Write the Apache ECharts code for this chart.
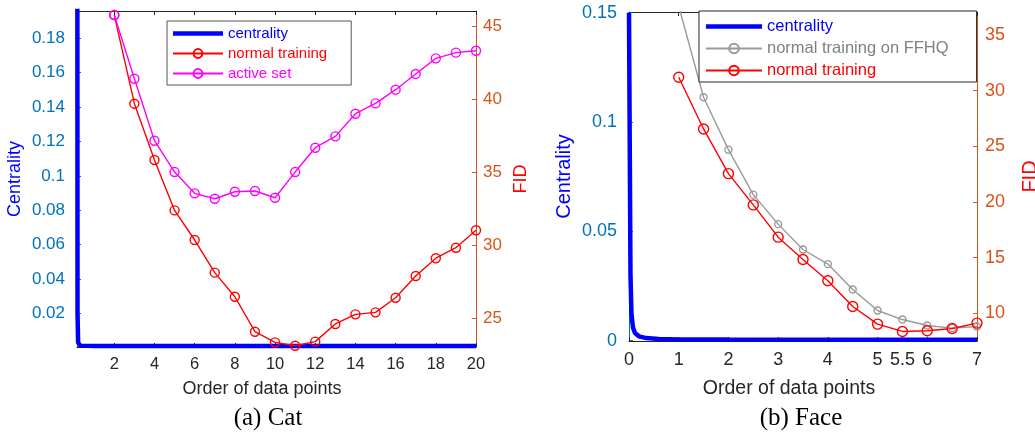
<!DOCTYPE html>
<html><head><meta charset="utf-8">
<script src="https://cdn.jsdelivr.net/npm/echarts@6/dist/echarts.min.js"></script>
<style>html,body{margin:0;padding:0;background:#fff}#c{width:1035px;height:433px}</style>
</head><body><div id="c"></div>
<script>
// ---------- (a) Cat ----------
const catX = [2,3,4,5,6,7,8,9,10,11,12,13,14,15,16,17,18,19,20];
const catNormal = [45.8,39.72,35.86,32.4,30.37,28.13,26.48,24.08,23.35,23.12,23.40,24.61,25.27,25.41,26.41,27.90,29.12,29.84,31.04];
const catActive = [45.8,41.43,37.18,35.03,33.57,33.20,33.68,33.73,33.27,35.03,36.70,37.48,39.03,39.74,40.68,41.76,42.83,43.22,43.35];
const catCentX = [0.15,0.17,0.2,0.3,1,20];
const catCentY = [0.5,0.02,0.003,0.0012,0.001,0.001];
const catXTicks = [2,4,6,8,10,12,14,16,18,20];
const catCentTicks = [0.02,0.04,0.06,0.08,0.1,0.12,0.14,0.16,0.18];
const catFidTicks = [25,30,35,40,45];
// ---------- (b) Face ----------
const faceX = [1,1.5,2,2.5,3,3.5,4,4.5,5,5.5,6,6.5,7];
const faceNormal = [31.2,26.56,22.55,19.74,16.84,14.83,12.92,10.61,9.03,8.37,8.43,8.64,9.12];
const faceFFHQ = [37.6,29.41,24.70,20.66,18.01,15.73,14.42,12.14,10.25,9.44,8.90,8.67,8.82];
const faceCentX = [0,0.03,0.05,0.08,0.12,0.2,0.35,0.6,1,2,7];
const faceCentY = [0.15,0.03,0.012,0.006,0.0035,0.002,0.0012,0.0008,0.0006,0.0005,0.0004];
const faceXTicks = [0,1,2,3,4,5,5.5,6,7];
const faceCentTicks = [0,0.05,0.1,0.15];
const faceFidTicks = [10,15,20,25,30,35];

const zip = (xs, ys) => xs.map((x, i) => [x, ys[i]]);
const FONT = 'Liberation Sans, Arial, Helvetica, sans-serif';
const DARK = '#262626', BLUEAX = '#0072BD', ORANGE = '#D95319';

function xAx(grid, pos, min, max, ticks, labels, fs, margin) {
  return {
    type: 'value', gridIndex: grid, position: pos, min: min, max: max,
    axisLine: { show: true, onZero: false, lineStyle: { color: DARK, width: 1 } },
    axisTick: { show: true, inside: true, length: 4, customValues: ticks, lineStyle: { color: DARK } },
    axisLabel: { show: labels, customValues: ticks, color: DARK, fontSize: fs, fontFamily: FONT, margin: margin },
    splitLine: { show: false }
  };
}
function yAx(grid, pos, min, max, ticks, color, fs, margin, name, nameColor, nameSize, nameGap) {
  return {
    type: 'value', gridIndex: grid, position: pos, min: min, max: max,
    axisLine: { show: true, onZero: false, lineStyle: { color: color, width: 1 } },
    axisTick: { show: true, inside: true, length: 4, customValues: ticks, lineStyle: { color: color } },
    axisLabel: { customValues: ticks, color: color, fontSize: fs, fontFamily: FONT, margin: margin },
    splitLine: { show: false },
    name: name, nameLocation: 'middle', nameGap: nameGap, nameRotate: 90,
    nameTextStyle: { color: nameColor, fontSize: nameSize, fontFamily: FONT }
  };
}
function markerSeries(name, xi, yi, data, color, size, width) {
  return {
    name: name, type: 'line', xAxisIndex: xi, yAxisIndex: yi, data: data,
    symbol: 'circle', symbolSize: size, showSymbol: true, clip: true,
    lineStyle: { color: color, width: width },
    itemStyle: { color: 'rgba(255,255,255,0)', borderColor: color, borderWidth: 1.4 },
    emphasis: { disabled: true }, animation: false
  };
}
function centSeries(name, xi, yi, data) {
  return {
    name: name, type: 'line', xAxisIndex: xi, yAxisIndex: yi, data: data,
    symbol: 'none', clip: true, lineStyle: { color: '#0000FF', width: 4.5 },
    itemStyle: { color: '#0000FF' }, emphasis: { disabled: true }, animation: false, z: 1
  };
}

const chart = echarts.init(document.getElementById('c'), null, { renderer: 'canvas' });
chart.setOption({
  animation: false,
  backgroundColor: '#fff',
  grid: [
    { left: 77, top: 11, width: 399, height: 336, outerBoundsMode: 'none', containLabel: false },
    { left: 629, top: 12, width: 348, height: 329, outerBoundsMode: 'none', containLabel: false }
  ],
  xAxis: [
    xAx(0, 'bottom', 0.144, 20, catXTicks, true, 16.5, 9),
    xAx(0, 'top', 0.144, 20, catXTicks, false, 16.5, 8),
    xAx(1, 'bottom', 0, 7, faceXTicks, true, 18, 10),
    xAx(1, 'top', 0, 7, faceXTicks, false, 18, 8)
  ],
  yAxis: [
    yAx(0, 'left', 0.0004, 0.1959, catCentTicks, BLUEAX, 17, 12, 'Centrality', '#0000FF', 18, 53),
    yAx(0, 'right', 23.032, 46.077, catFidTicks, ORANGE, 17, 7, 'FID', '#FF0000', 18, 36),
    yAx(1, 'left', -0.00014, 0.15032, faceCentTicks, BLUEAX, 18, 12, 'Centrality', '#0000FF', 20, 55),
    yAx(1, 'right', 7.512, 37.066, faceFidTicks, ORANGE, 18, 8, 'FID', '#FF0000', 20, 43)
  ],
  legend: [
    {
      left: 167, top: 21, orient: 'vertical', itemWidth: 50, itemHeight: 11, itemGap: 5,
      padding: [5, 24, 4, 5], backgroundColor: '#fff', borderColor: '#555', borderWidth: 1,
      selectedMode: false, textStyle: { fontSize: 15, fontFamily: FONT },
      data: [
        { name: 'centrality', icon: 'path://M0,0 M50,11 M0,3.25 L50,3.25 L50,7.75 L0,7.75 Z', textStyle: { color: '#0000FF' } },
        { name: 'normal training', textStyle: { color: '#FF0000' } },
        { name: 'active set', textStyle: { color: '#FF00FF' } }
      ]
    },
    {
      left: 699, top: 11, orient: 'vertical', itemWidth: 56, itemHeight: 12, itemGap: 5,
      padding: [7, 28, 3, 6], backgroundColor: '#fff', borderColor: DARK, borderWidth: 1,
      selectedMode: false, textStyle: { fontSize: 16.5, fontFamily: FONT },
      formatter: n => n.replace(' (b)', ''),
      data: [
        { name: 'centrality (b)', icon: 'path://M0,0 M56,12 M0,3.75 L56,3.75 L56,8.25 L0,8.25 Z', textStyle: { color: '#0000FF' } },
        { name: 'normal training on FFHQ (b)', textStyle: { color: '#808080' } },
        { name: 'normal training (b)', textStyle: { color: '#FF0000' } }
      ]
    }
  ],
  series: [
    centSeries('centrality', 0, 0, zip(catCentX, catCentY)),
    markerSeries('normal training', 1, 1, zip(catX, catNormal), '#FF0000', 9, 1.4),
    markerSeries('active set', 1, 1, zip(catX, catActive), '#FF00FF', 9, 1.4),
    centSeries('centrality (b)', 2, 2, zip(faceCentX, faceCentY)),
    markerSeries('normal training on FFHQ (b)', 3, 3, zip(faceX, faceFFHQ), '#999999', 7, 1.4),
    markerSeries('normal training (b)', 3, 3, zip(faceX, faceNormal), '#FF0000', 10, 1.4)
  ],
  graphic: [
    { type: 'text', x: 262, y: 389, style: { text: 'Order of data points', align: 'center', verticalAlign: 'middle', font: '18px ' + FONT, fill: DARK } },
    { type: 'text', x: 789, y: 389, style: { text: 'Order of data points', align: 'center', verticalAlign: 'middle', font: '19.5px ' + FONT, fill: DARK } },
    { type: 'text', x: 268, y: 418, style: { text: '(a) Cat', align: 'center', verticalAlign: 'middle', font: '25px Liberation Serif, Times New Roman, serif', fill: '#000' } },
    { type: 'text', x: 801, y: 418, style: { text: '(b) Face', align: 'center', verticalAlign: 'middle', font: '25px Liberation Serif, Times New Roman, serif', fill: '#000' } }
  ]
});
</script></body></html>
